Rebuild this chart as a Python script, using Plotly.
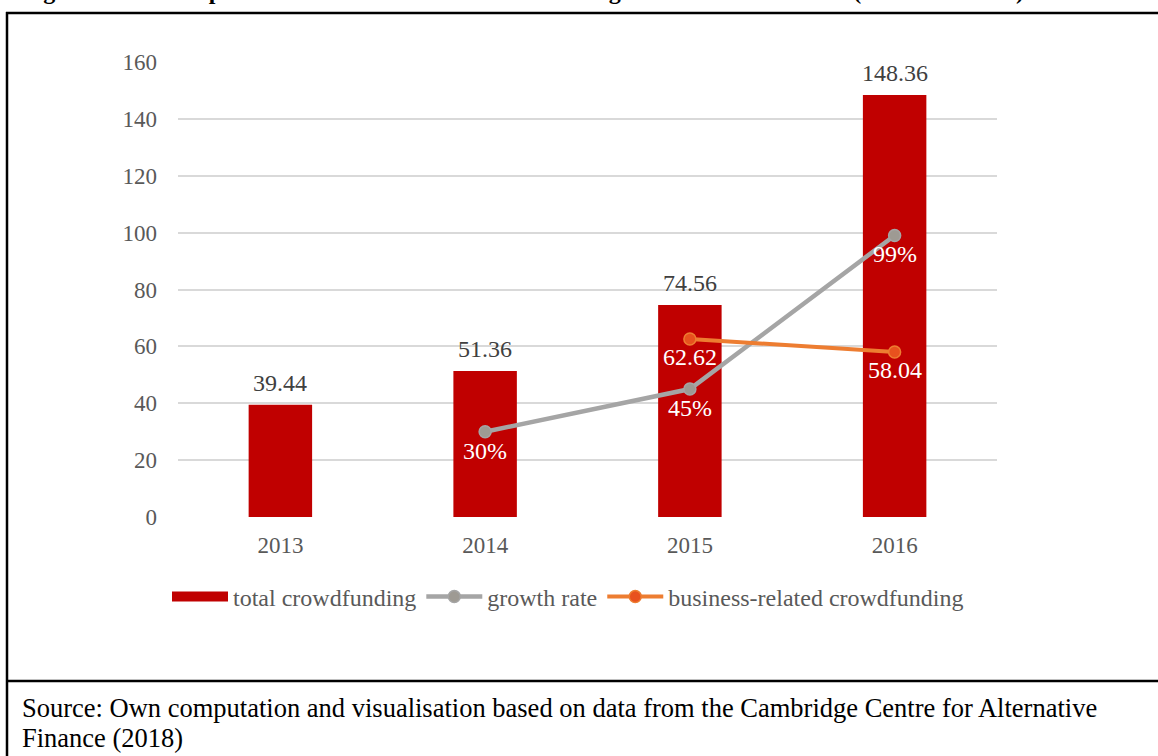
import plotly.graph_objects as go

# ---- data ----
years = [2013, 2014, 2015, 2016]
total = [39.44, 51.36, 74.56, 148.36]
growth_years = [2014, 2015, 2016]
growth = [30, 45, 99]
growth_labels = ["30%", "45%", "99%"]
business_years = [2015, 2016]
business = [62.62, 58.04]
y_ticks = [0, 20, 40, 60, 80, 100, 120, 140, 160]

title_text = "Figure 4.2: Development of business-related crowdfunding market volume in EU (in million EUR)"
source_lines = ["Source: Own computation and visualisation based on data from the Cambridge Centre for Alternative",
                "Finance (2018)"]

FONT = "Liberation Serif, Times New Roman, serif"
W, H = 1158, 756
L, R, T, B = 178, 997, 62, 517  # plot area in pixels


def px(xp):
    return (xp - L) / (R - L)


def py(yp):
    return (B - yp) / (B - T)


fig = go.Figure()

fig.add_trace(go.Bar(
    x=years, y=total, name="total crowdfunding",
    marker=dict(color="#C00000", line=dict(width=0)),
    width=0.31, showlegend=False,
))
# legend entry for bars (wide rectangle look)
fig.add_trace(go.Scatter(
    x=[None], y=[None], mode="lines", name="total crowdfunding",
    line=dict(color="#C00000", width=12),
))
fig.add_trace(go.Scatter(
    x=growth_years, y=growth, name="growth rate", mode="lines+markers",
    line=dict(color="#A5A5A5", width=4.5),
    marker=dict(size=12, color="#9E9A93", line=dict(color="#A5A5A5", width=1.5)),
))
fig.add_trace(go.Scatter(
    x=business_years, y=business, name="business-related crowdfunding", mode="lines+markers",
    line=dict(color="#ED7D31", width=4),
    marker=dict(size=12, color="#E8511E", line=dict(color="#ED7D31", width=1.5)),
))

annotations = []
for x, v in zip(years, total):
    annotations.append(dict(x=x, y=v, xref="x", yref="y", text=f"{v:.2f}", showarrow=False,
                            yanchor="bottom", yshift=7,
                            font=dict(family=FONT, size=24, color="#404040")))
for x, v, t in zip(growth_years, growth, growth_labels):
    annotations.append(dict(x=x, y=v, xref="x", yref="y", text=t, showarrow=False,
                            yanchor="top", yshift=-4,
                            font=dict(family=FONT, size=24, color="#FFFFFF")))
for x, v in zip(business_years, business):
    annotations.append(dict(x=x, y=v, xref="x", yref="y", text=f"{v:.2f}", showarrow=False,
                            yanchor="top", yshift=-3,
                            font=dict(family=FONT, size=24, color="#FFFFFF")))
# clipped title at the top
annotations.append(dict(x=px(20), y=py(6), xref="paper", yref="paper", text="<b>" + title_text + "</b>",
                        showarrow=False, xanchor="left", yanchor="bottom",
                        font=dict(family=FONT, size=24, color="#000000")))
# source (two lines)
for i, line in enumerate(source_lines):
    annotations.append(dict(x=px(20), y=py(708 + 30 * i), xref="paper", yref="paper", text=line,
                            showarrow=False, xanchor="left", yanchor="middle", align="left",
                            font=dict(family=FONT, size=26.5, color="#000000")))

shapes = [
    dict(type="line", xref="paper", yref="paper", x0=px(7), x1=px(7), y0=py(12), y1=py(760),
         line=dict(color="black", width=2.5)),
    dict(type="line", xref="paper", yref="paper", x0=px(6), x1=px(1170), y0=py(13), y1=py(13),
         line=dict(color="black", width=2.5)),
    dict(type="line", xref="paper", yref="paper", x0=px(6), x1=px(1170), y0=py(681), y1=py(681),
         line=dict(color="black", width=2.5)),
]

fig.update_layout(
    width=W, height=H,
    margin=dict(l=L, r=W - R, t=T, b=H - B, pad=0),
    paper_bgcolor="white", plot_bgcolor="white",
    font=dict(family=FONT, size=24, color="#595959"),
    xaxis=dict(range=[years[0] - 0.5, years[-1] + 0.5], tickvals=years, ticktext=[str(y) for y in years],
               showgrid=False, showline=False, zeroline=False, ticks="",
               tickfont=dict(family=FONT, size=23, color="#595959"), ticklabelstandoff=12),
    yaxis=dict(range=[0, 160], tickvals=y_ticks, showgrid=True, gridcolor="#D9D9D9", gridwidth=1.5,
               zeroline=False, showline=False, ticks="",
               tickfont=dict(family=FONT, size=23, color="#595959"), ticklabelstandoff=20),
    legend=dict(orientation="h", x=px(568), xanchor="center", y=py(597), yanchor="middle",
                font=dict(family=FONT, size=24, color="#595959"), itemwidth=56,
                bgcolor="rgba(0,0,0,0)", traceorder="normal"),
    annotations=annotations,
    shapes=shapes,
)

fig.write_html("out.html", config={"displayModeBar": False},
               post_script="document.body.style.margin='0';document.body.style.overflow='hidden';")
